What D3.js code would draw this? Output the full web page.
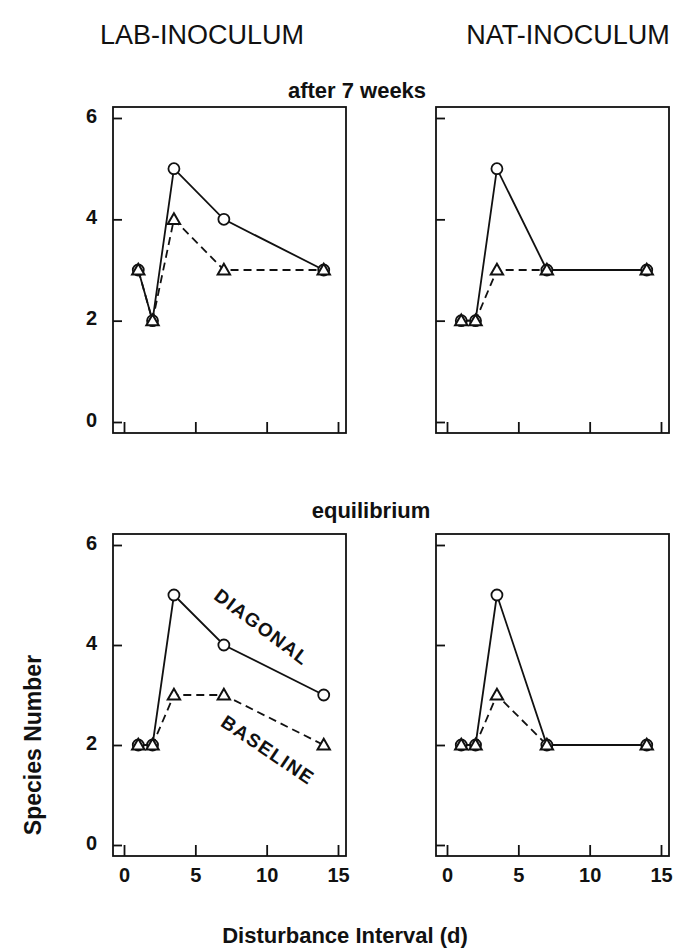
<!DOCTYPE html>
<html>
<head>
<meta charset="utf-8">
<script src="https://cdn.jsdelivr.net/npm/d3@7"></script>
<style>
  body { margin: 0; background: #fff; }
  text { font-family: "Liberation Sans", Arial, sans-serif; fill: #111; }
  .coltitle { font-family: "Liberation Sans Narrow", "Liberation Sans", Arial, sans-serif; }
</style>
</head>
<body>
<div id="chart"></div>
<script>
// disturbance intervals (days) on the x axis
var intervals = [1, 2, 3.5, 7, 14];
var xTicks = [0, 5, 10, 15];
var yTicks = [0, 2, 4, 6];

// species numbers
var labAfterDiagonal = [3, 2, 5, 4, 3];
var labAfterBaseline = [3, 2, 4, 3, 3];
var natAfterDiagonal = [2, 2, 5, 3, 3];
var natAfterBaseline = [2, 2, 3, 3, 3];
var labEqDiagonal = [2, 2, 5, 4, 3];
var labEqBaseline = [2, 2, 3, 3, 2];
var natEqDiagonal = [2, 2, 5, 2, 2];
var natEqBaseline = [2, 2, 3, 2, 2];

var columnTitles = ["LAB-INOCULUM", "NAT-INOCULUM"];
var rowTitles = ["after 7 weeks", "equilibrium"];

var width = 686, height = 952;

var svg = d3.select("#chart")
    .append("svg")
    .attr("width", width)
    .attr("height", height);

// pixel ranges of each column / row
var colRanges = [[124, 338], [447, 661]];
var rowRanges = [[422, 118], [845, 545]];
var titleX = [202, 568];
var rowTitleX = [357, 371];
var rowTitleY = [98, 518];

var panels = [
    { col: 0, row: 0, diag: labAfterDiagonal, base: labAfterBaseline },
    { col: 1, row: 0, diag: natAfterDiagonal, base: natAfterBaseline },
    { col: 0, row: 1, diag: labEqDiagonal, base: labEqBaseline },
    { col: 1, row: 1, diag: natEqDiagonal, base: natEqBaseline }
];

var triangle = d3.symbol().type(d3.symbolTriangle).size(66);

panels.forEach(function (p) {
    var x = d3.scaleLinear().domain([0, 15]).range(colRanges[p.col]);
    var y = d3.scaleLinear().domain([0, 6]).range(rowRanges[p.row]);

    var left = x(0) - 11, right = x(15) + 8;
    var top = y(6) - 11, bottom = y(0) + 11;

    var g = svg.append("g");

    // frame
    g.append("rect")
        .attr("x", left)
        .attr("y", top)
        .attr("width", right - left)
        .attr("height", bottom - top)
        .attr("fill", "none")
        .attr("stroke", "#111")
        .attr("stroke-width", 1.8);

    // y ticks pointing inward
    var yAxis = g.append("g")
        .attr("transform", `translate(${left},0)`)
        .call(d3.axisLeft(y).tickValues(yTicks).tickSizeInner(-9).tickSizeOuter(0).tickPadding(16));
    yAxis.select(".domain").remove();
    yAxis.selectAll("line").attr("stroke", "#111").attr("stroke-width", 1.8);
    yAxis.selectAll("text")
        .style("font-size", "20px")
        .style("font-weight", "bold")
        .attr("dy", "0.2em")
        .text(function (d) { return p.col == 0 ? d : ""; });

    // x ticks pointing inward
    var xAxis = g.append("g")
        .attr("transform", `translate(0,${bottom})`)
        .call(d3.axisBottom(x).tickValues(xTicks).tickSizeInner(-11).tickSizeOuter(0).tickPadding(12));
    xAxis.select(".domain").remove();
    xAxis.selectAll("line").attr("stroke", "#111").attr("stroke-width", 1.8);
    xAxis.selectAll("text")
        .style("font-size", "20px")
        .style("font-weight", "bold")
        .text(function (d) { return p.row == 1 ? d : ""; });

    var line = d3.line()
        .x(function (d, i) { return x(intervals[i]); })
        .y(function (d) { return y(d); });

    // baseline: dashed
    g.append("path")
        .datum(p.base)
        .attr("d", line)
        .attr("fill", "none")
        .attr("stroke", "#111")
        .attr("stroke-width", 1.8)
        .attr("stroke-dasharray", "8,5");

    // diagonal: solid
    g.append("path")
        .datum(p.diag)
        .attr("d", line)
        .attr("fill", "none")
        .attr("stroke", "#111")
        .attr("stroke-width", 1.8);

    g.selectAll(".circ")
        .data(p.diag)
        .join("circle")
        .attr("class", "circ")
        .attr("cx", function (d, i) { return x(intervals[i]); })
        .attr("cy", function (d) { return y(d); })
        .attr("r", 5.5)
        .attr("fill", "#fff")
        .attr("stroke", "#111")
        .attr("stroke-width", 1.8);

    g.selectAll(".tri")
        .data(p.base)
        .join("path")
        .attr("class", "tri")
        .attr("d", triangle)
        .attr("transform", function (d, i) { return `translate(${x(intervals[i])},${y(d) + 1})`; })
        .attr("fill", "#fff")
        .attr("stroke", "#111")
        .attr("stroke-width", 2);

    // row title over the panel pair
    if (p.col == 0) {
        svg.append("text")
            .attr("x", rowTitleX[p.row])
            .attr("y", rowTitleY[p.row])
            .attr("text-anchor", "middle")
            .style("font-size", "22px")
            .style("font-weight", "bold")
            .text(rowTitles[p.row]);
    }
    if (p.row == 0) {
        svg.append("text")
            .attr("class", "coltitle")
            .attr("x", titleX[p.col])
            .attr("y", 44)
            .attr("text-anchor", "middle")
            .style("font-size", "27px")
            .text(columnTitles[p.col]);
    }
});

// series labels inside the lower left panel
svg.append("text")
    .attr("transform", "translate(262,627) rotate(37)")
    .attr("text-anchor", "middle")
    .attr("dy", "0.35em")
    .style("font-size", "19px")
    .style("font-weight", "bold")
    .style("letter-spacing", "1.5px")
    .text("DIAGONAL");

svg.append("text")
    .attr("transform", "translate(268,750) rotate(34)")
    .attr("text-anchor", "middle")
    .attr("dy", "0.35em")
    .style("font-size", "19px")
    .style("font-weight", "bold")
    .style("letter-spacing", "1.5px")
    .text("BASELINE");

// axis titles
svg.append("text")
    .attr("transform", "translate(41,745) rotate(-90)")
    .attr("text-anchor", "middle")
    .style("font-size", "23px")
    .style("font-weight", "bold")
    .text("Species Number");

svg.append("text")
    .attr("x", 345)
    .attr("y", 943)
    .attr("text-anchor", "middle")
    .style("font-size", "22px")
    .style("font-weight", "bold")
    .text("Disturbance Interval (d)");
</script>
</body>
</html>
